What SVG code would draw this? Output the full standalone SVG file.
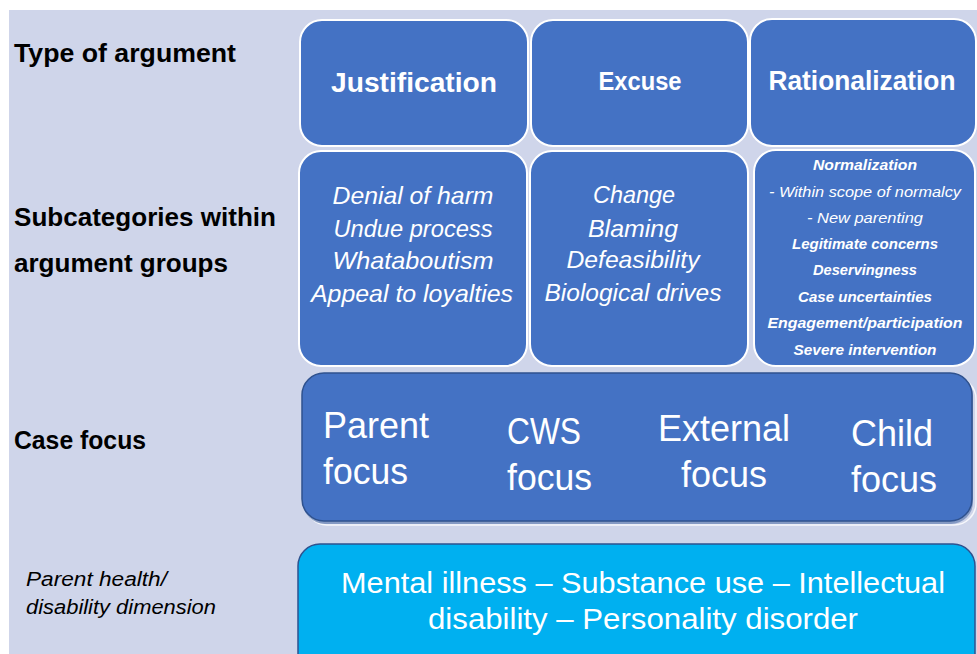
<svg xmlns="http://www.w3.org/2000/svg" width="977" height="654" viewBox="0 0 977 654">
<style>
.bg{fill:#CFD5EA}
.box{fill:#4472C4;stroke:#FFFFFF;stroke-width:2}
.focus{fill:#4472C4;stroke:#2F528F;stroke-width:1.5}
.lbl{font-family:"Liberation Sans",Arial,sans-serif;font-weight:bold;font-size:25px;fill:#000}
.lbli{font-family:"Liberation Sans",Arial,sans-serif;font-style:italic;font-size:20.5px;fill:#000}
.hdr{font-family:"Liberation Sans",Arial,sans-serif;font-weight:bold;fill:#FFF;text-anchor:middle}
.sub{font-family:"Liberation Sans",Arial,sans-serif;font-style:italic;font-size:24px;fill:#FFF;text-anchor:middle}
.rat{font-family:"Liberation Sans",Arial,sans-serif;font-style:italic;font-weight:bold;font-size:15px;fill:#FFF;text-anchor:middle}
.ratn{font-family:"Liberation Sans",Arial,sans-serif;font-style:italic;font-size:15px;fill:#FFF;text-anchor:middle}
.cf{font-family:"Liberation Sans",Arial,sans-serif;font-size:37px;fill:#FFF}
.hl{font-family:"Liberation Sans",Arial,sans-serif;font-size:30px;fill:#FFF;text-anchor:middle}
</style>
<rect x="0" y="0" width="977" height="654" fill="#FFFFFF"/>
<rect class="bg" x="9" y="10" width="968" height="644"/>

<g id="labels">
<text class="lbl" x="14" y="62" textLength="222" lengthAdjust="spacingAndGlyphs">Type of argument</text>
<text class="lbl" x="14" y="226" textLength="262" lengthAdjust="spacingAndGlyphs">Subcategories within</text>
<text class="lbl" x="14" y="272" textLength="214" lengthAdjust="spacingAndGlyphs">argument groups</text>
<text class="lbl" x="14" y="449" textLength="132" lengthAdjust="spacingAndGlyphs">Case focus</text>
<text class="lbli" x="26" y="586" textLength="141" lengthAdjust="spacingAndGlyphs">Parent health/</text>
<text class="lbli" x="26" y="614" textLength="190" lengthAdjust="spacingAndGlyphs">disability dimension</text>
</g>

<g id="justification">
<rect class="box" x="300" y="20" width="228" height="126" rx="22"/>
<text class="hdr" x="414" y="92" font-size="28" textLength="166" lengthAdjust="spacingAndGlyphs">Justification</text>
</g>
<g id="excuse">
<rect class="box" x="531" y="20" width="217" height="126" rx="22"/>
<text class="hdr" x="640" y="90" font-size="25" textLength="83" lengthAdjust="spacingAndGlyphs">Excuse</text>
</g>
<g id="rationalization">
<rect class="box" x="750" y="19" width="226" height="127" rx="22"/>
<text class="hdr" x="862" y="90" font-size="27" textLength="187" lengthAdjust="spacingAndGlyphs">Rationalization</text>
</g>

<g id="justification-sub">
<rect class="box" x="299" y="151" width="228" height="215" rx="22"/>
<text class="sub" x="413" y="204" textLength="161" lengthAdjust="spacingAndGlyphs">Denial of harm</text>
<text class="sub" x="413" y="237" textLength="159" lengthAdjust="spacingAndGlyphs">Undue process</text>
<text class="sub" x="413" y="269" textLength="161" lengthAdjust="spacingAndGlyphs">Whataboutism</text>
<text class="sub" x="412" y="302" textLength="202" lengthAdjust="spacingAndGlyphs">Appeal to loyalties</text>
</g>
<g id="excuse-sub">
<rect class="box" x="530" y="151" width="218" height="215" rx="22"/>
<text class="sub" x="634" y="203" textLength="82" lengthAdjust="spacingAndGlyphs">Change</text>
<text class="sub" x="633" y="237" textLength="90" lengthAdjust="spacingAndGlyphs">Blaming</text>
<text class="sub" x="633" y="268" textLength="133" lengthAdjust="spacingAndGlyphs">Defeasibility</text>
<text class="sub" x="633" y="301" textLength="177" lengthAdjust="spacingAndGlyphs">Biological drives</text>
</g>
<g id="rationalization-sub">
<rect class="box" x="754" y="150" width="221" height="216" rx="22"/>
<text class="rat" x="865" y="170" textLength="104" lengthAdjust="spacingAndGlyphs">Normalization</text>
<text class="ratn" x="865" y="197" textLength="192" lengthAdjust="spacingAndGlyphs">- Within scope of normalcy</text>
<text class="ratn" x="865" y="223" textLength="116" lengthAdjust="spacingAndGlyphs">- New parenting</text>
<text class="rat" x="865" y="249" textLength="146" lengthAdjust="spacingAndGlyphs">Legitimate concerns</text>
<text class="rat" x="865" y="275" textLength="104" lengthAdjust="spacingAndGlyphs">Deservingness</text>
<text class="rat" x="865" y="302" textLength="134" lengthAdjust="spacingAndGlyphs">Case uncertainties</text>
<text class="rat" x="865" y="328" textLength="195" lengthAdjust="spacingAndGlyphs">Engagement/participation</text>
<text class="rat" x="865" y="355" textLength="143" lengthAdjust="spacingAndGlyphs">Severe intervention</text>
</g>

<g id="case-focus">
<rect x="305" y="377" width="671" height="148" rx="22" fill="none" stroke="#FFFFFF" stroke-width="1.5" opacity="0.8"/>
<rect x="303" y="375" width="670" height="149" rx="22" fill="#3A5E9C" opacity="0.5"/>
<rect class="focus" x="302" y="373" width="670" height="148" rx="22"/>
<text class="cf" x="323" y="438" textLength="106" lengthAdjust="spacingAndGlyphs">Parent</text>
<text class="cf" x="323" y="484" textLength="85" lengthAdjust="spacingAndGlyphs">focus</text>
<text class="cf" x="507" y="444" textLength="74" lengthAdjust="spacingAndGlyphs">CWS</text>
<text class="cf" x="507" y="490" textLength="85" lengthAdjust="spacingAndGlyphs">focus</text>
<text class="cf" x="658" y="441" textLength="132" lengthAdjust="spacingAndGlyphs">External</text>
<text class="cf" x="681" y="487" textLength="86" lengthAdjust="spacingAndGlyphs">focus</text>
<text class="cf" x="851" y="446" textLength="82" lengthAdjust="spacingAndGlyphs">Child</text>
<text class="cf" x="851" y="492" textLength="86" lengthAdjust="spacingAndGlyphs">focus</text>
</g>

<g id="health-dimension">
<path d="M298,654 L298,566 A22,22 0 0 1 320,544 L953,544 A22,22 0 0 1 975,566 L975,654 Z" fill="#00B0F0"/>
<path d="M298,654 L298,566 A22,22 0 0 1 320,544 L953,544 A22,22 0 0 1 975,566 L975,654" fill="none" stroke="#2F528F" stroke-width="1.5"/>
<text class="hl" x="643" y="593" textLength="604" lengthAdjust="spacingAndGlyphs">Mental illness – Substance use – Intellectual</text>
<text class="hl" x="643" y="629" textLength="430" lengthAdjust="spacingAndGlyphs">disability – Personality disorder</text>
</g>

<g id="connectors"></g>
</svg>
